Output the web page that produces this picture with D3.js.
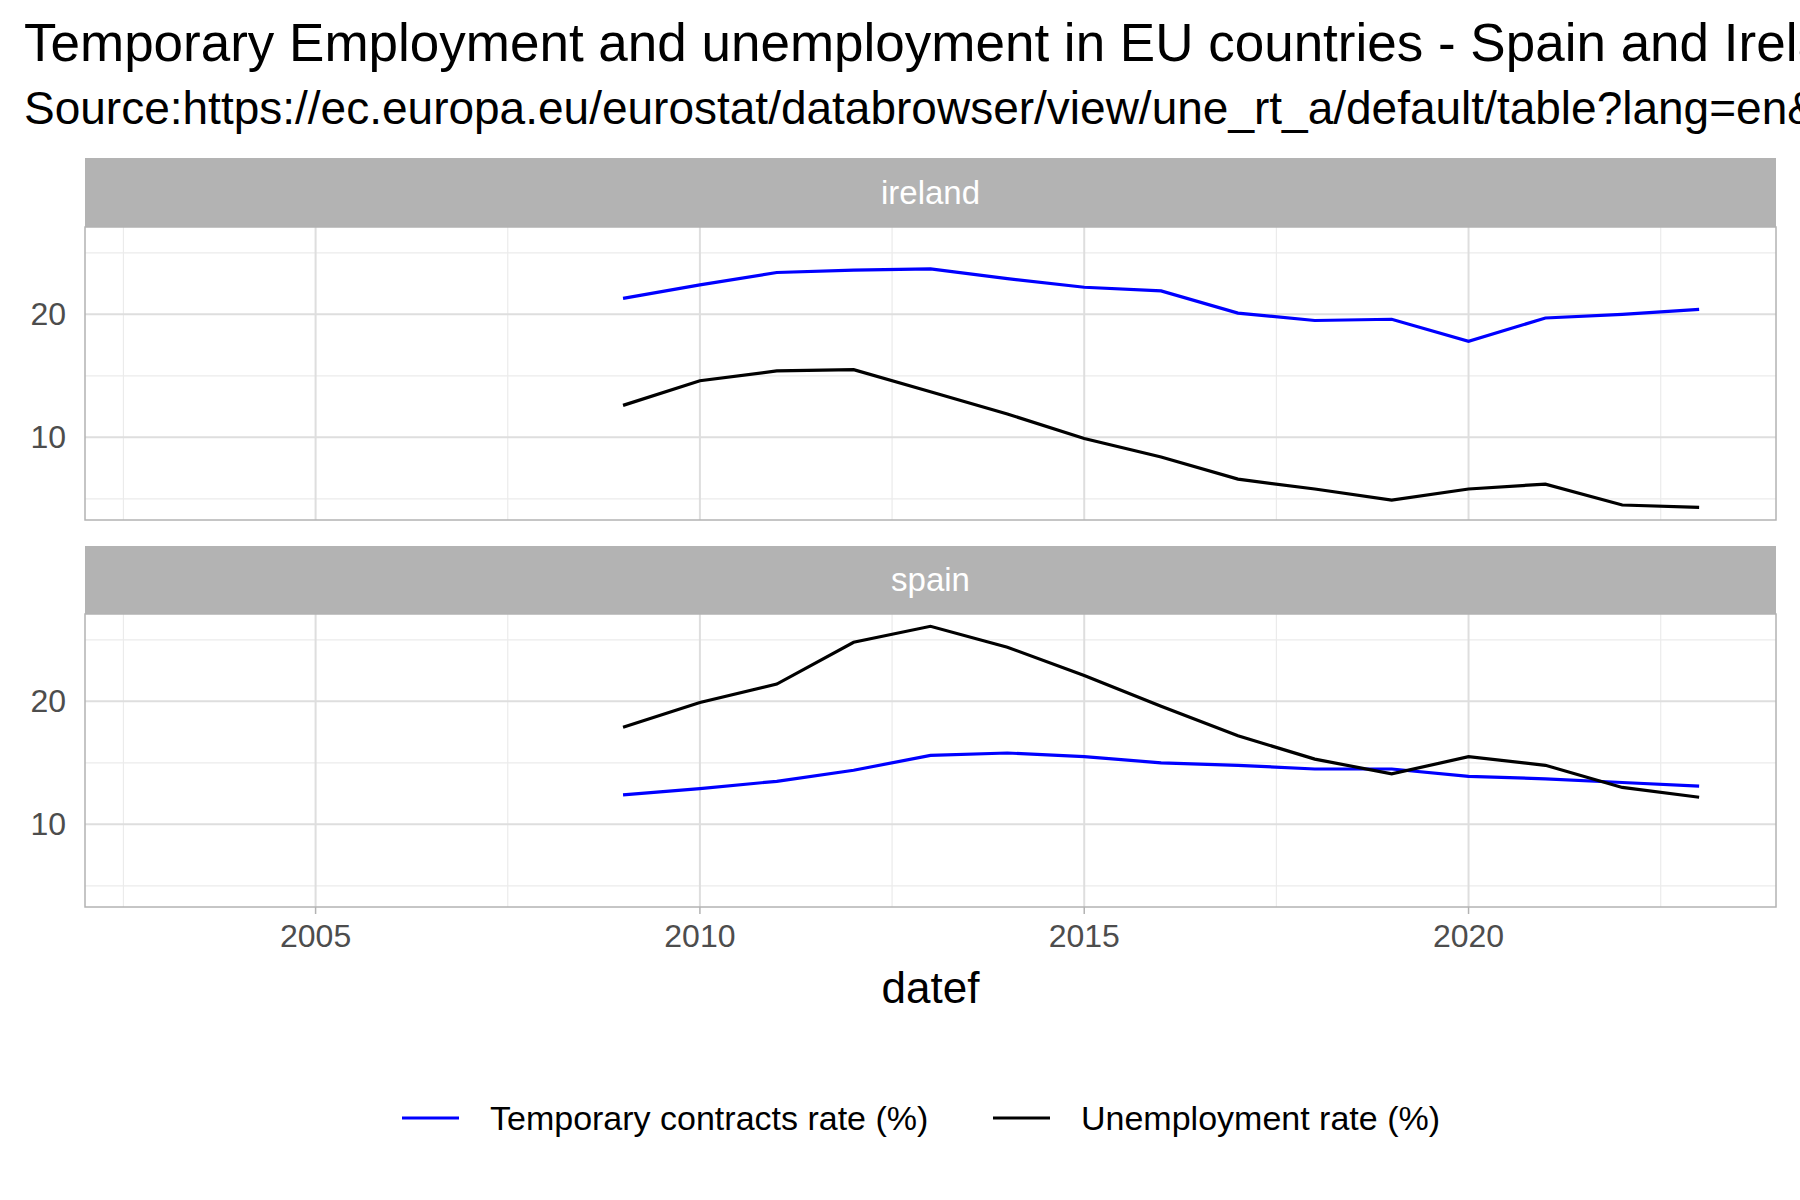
<!DOCTYPE html>
<html>
<head>
<meta charset="utf-8">
<script src="https://cdn.jsdelivr.net/npm/d3@7"></script>
<style>
  body { margin: 0; background: #fff; overflow: hidden; }
  text { font-family: "Liberation Sans", Arial, sans-serif; }
</style>
</head>
<body>
<svg id="chart" width="1800" height="1200"></svg>
<script>
'use strict'

// values
const years = [2009, 2010, 2011, 2012, 2013, 2014, 2015, 2016, 2017, 2018, 2019, 2020, 2021, 2022, 2023]
const countries = ['ireland', 'spain']
const irelandTemporary = [21.3, 22.4, 23.4, 23.6, 23.7, 22.9, 22.2, 21.9, 20.1, 19.5, 19.6, 17.8, 19.7, 20.0, 20.4]
const irelandUnemployment = [12.6, 14.6, 15.4, 15.5, 13.7, 11.9, 9.9, 8.4, 6.6, 5.8, 4.9, 5.8, 6.2, 4.5, 4.3]
const spainTemporary = [12.4, 12.9, 13.5, 14.4, 15.6, 15.8, 15.5, 15.0, 14.8, 14.5, 14.5, 13.9, 13.7, 13.4, 13.1]
const spainUnemployment = [17.9, 19.9, 21.4, 24.8, 26.1, 24.4, 22.1, 19.6, 17.2, 15.3, 14.1, 15.5, 14.8, 13.0, 12.2]
const seriesNames = ['Temporary contracts rate (%)', 'Unemployment rate (%)']
const seriesColors = ['#0000ff', '#000000']
const xTicks = [2005, 2010, 2015, 2020]
const yTicks = [10, 20]

const panelData = {
  ireland: [irelandTemporary, irelandUnemployment],
  spain: [spainTemporary, spainUnemployment]
}

const svg = d3.select('#chart')
const left = 85
const right = 1776
const panels = [
  { name: countries[0], stripTop: 158, top: 227, bottom: 520 },
  { name: countries[1], stripTop: 546, top: 614, bottom: 907 }
]

svg.append('text').attr('x', 24).attr('y', 61).attr('font-size', 53).text('Temporary Employment and unemployment in EU countries - Spain and Ireland')
svg.append('text').attr('x', 24).attr('y', 124).attr('font-size', 46).text('Source:https://ec.europa.eu/eurostat/databrowser/view/une_rt_a/default/table?lang=en&category=labour')

const x = d3.scaleLinear().domain([2002, 2024]).range([left, right])

panels.forEach((p, pi) => {
  const y = d3.scaleLinear().domain([3.28, 27.1]).range([p.bottom, p.top])
  const g = svg.append('g')

  // strip
  g.append('rect').attr('x', left).attr('y', p.stripTop).attr('width', right - left).attr('height', p.top - p.stripTop).attr('fill', '#b3b3b3')
  g.append('text').attr('x', (left + right) / 2).attr('y', (p.stripTop + p.top) / 2 + 11)
    .attr('text-anchor', 'middle').attr('font-size', 33).attr('fill', '#fff').text(p.name)

  // grid
  const minorX = [2002.5, 2007.5, 2012.5, 2017.5, 2022.5]
  g.selectAll('.mx').data(minorX).join('line')
    .attr('x1', d => x(d)).attr('x2', d => x(d)).attr('y1', p.top).attr('y2', p.bottom)
    .attr('stroke', '#ebebeb').attr('stroke-width', 1.2)
  g.selectAll('.my').data([5, 15, 25]).join('line')
    .attr('x1', left).attr('x2', right).attr('y1', d => y(d)).attr('y2', d => y(d))
    .attr('stroke', '#ebebeb').attr('stroke-width', 1.2)
  g.selectAll('.gx').data(xTicks).join('line')
    .attr('x1', d => x(d)).attr('x2', d => x(d)).attr('y1', p.top).attr('y2', p.bottom)
    .attr('stroke', '#dedede').attr('stroke-width', 2)
  g.selectAll('.gy').data(yTicks).join('line')
    .attr('x1', left).attr('x2', right).attr('y1', d => y(d)).attr('y2', d => y(d))
    .attr('stroke', '#dedede').attr('stroke-width', 2)

  // y labels
  g.selectAll('.yl').data(yTicks).join('text')
    .attr('x', left - 19).attr('y', d => y(d) + 11).attr('text-anchor', 'end')
    .attr('font-size', 32).attr('fill', '#4d4d4d').text(d => d)

  // lines
  const line = d3.line().x((d, i) => x(years[i])).y(d => y(d))
  panelData[p.name].forEach((vals, si) => {
    g.append('path').datum(vals).attr('d', line).attr('fill', 'none')
      .attr('stroke', seriesColors[si]).attr('stroke-width', 3.2)
  })

  g.append('rect').attr('x', left).attr('y', p.top).attr('width', right - left).attr('height', p.bottom - p.top)
    .attr('fill', 'none').attr('stroke', '#b3b3b3').attr('stroke-width', 1.5)

  if (pi === panels.length - 1) {
    g.selectAll('.xt').data(xTicks).join('line')
      .attr('x1', d => x(d)).attr('x2', d => x(d)).attr('y1', p.bottom).attr('y2', p.bottom + 7)
      .attr('stroke', '#b3b3b3').attr('stroke-width', 1.5)
    g.selectAll('.xl').data(xTicks).join('text')
      .attr('x', d => x(d)).attr('y', p.bottom + 40).attr('text-anchor', 'middle')
      .attr('font-size', 32).attr('fill', '#4d4d4d').text(d => d)
  }
})

svg.append('text').attr('x', (left + right) / 2).attr('y', 1003).attr('text-anchor', 'middle')
  .attr('font-size', 44).text('datef')

// legend
const legendX = [402, 993]
seriesNames.forEach((name, i) => {
  svg.append('line').attr('x1', legendX[i]).attr('x2', legendX[i] + 57).attr('y1', 1118).attr('y2', 1118)
    .attr('stroke', seriesColors[i]).attr('stroke-width', 3.2)
  svg.append('text').attr('x', legendX[i] + 88).attr('y', 1130).attr('font-size', 34).text(name)
})
</script>
</body>
</html>
